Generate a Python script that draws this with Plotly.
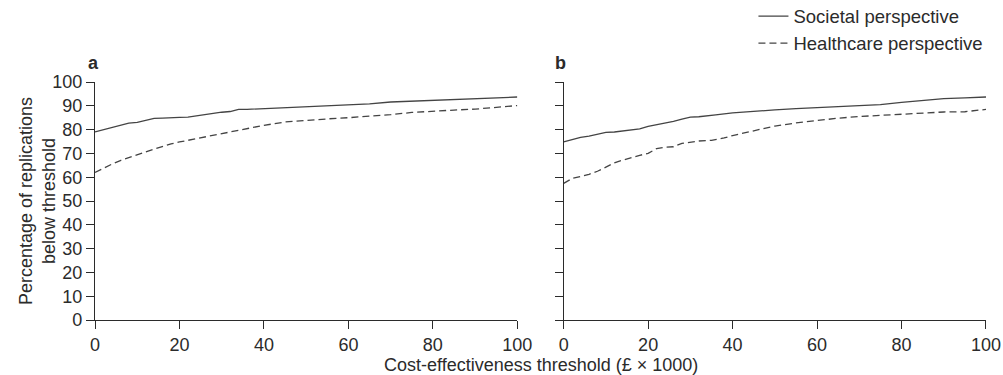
import plotly.graph_objects as go
from plotly.subplots import make_subplots

# Panel a
a_x = [0, 2, 4, 6, 8, 10, 12, 14, 16, 18, 20, 22, 24, 26, 28, 30, 32, 34, 36, 40, 45, 50, 55, 60, 65, 70, 75, 80, 85, 90, 95, 100]
a_soc = [79.0, 80.0, 81.0, 82.0, 82.7, 83.0, 84.0, 84.7, 84.8, 85.1, 85.1, 85.2, 85.8, 86.3, 86.8, 87.3, 87.6, 88.5, 88.5, 88.8, 89.2, 89.5, 89.9, 90.3, 90.8, 91.6, 92.0, 92.4, 92.8, 93.2, 93.3, 93.7]
a_hc_x = [0, 2, 4, 6, 8, 10, 12, 14, 16, 18, 20, 22, 25, 28, 30, 35, 40, 45, 50, 55, 60, 65, 70, 75, 80, 85, 90, 95, 100]
a_hc = [62.0, 63.8, 65.5, 67.0, 68.3, 69.5, 70.6, 71.8, 73.0, 74.0, 74.8, 75.5, 76.5, 77.5, 78.3, 80.0, 81.8, 83.2, 84.0, 84.5, 85.0, 85.6, 86.3, 87.2, 87.8, 88.2, 88.6, 89.2, 90.1]

# Panel b
b_x = [0, 2, 4, 6, 8, 10, 12, 14, 16, 18, 20, 22, 24, 26, 28, 30, 32, 34, 36, 40, 45, 50, 55, 60, 65, 70, 75, 80, 85, 90, 95, 100]
b_soc = [74.8, 75.8, 76.7, 77.3, 78.2, 78.8, 79.0, 79.5, 79.8, 80.3, 81.4, 82.0, 82.8, 83.5, 84.4, 85.2, 85.4, 85.7, 86.2, 87.0, 87.8, 88.3, 88.8, 89.2, 89.6, 90.1, 90.5, 91.4, 92.3, 93.0, 93.3, 93.7]
b_hc_x = [0, 1, 2, 4, 6, 8, 10, 12, 14, 16, 18, 20, 22, 24, 26, 28, 30, 32, 35, 38, 40, 45, 50, 55, 60, 65, 70, 75, 80, 85, 90, 95, 100]
b_hc = [57.4, 58.5, 59.5, 60.3, 61.2, 62.5, 64.3, 66.0, 67.2, 68.3, 69.2, 70.0, 72.0, 72.6, 72.8, 74.2, 74.8, 75.2, 75.5, 76.5, 77.5, 79.5, 81.5, 82.8, 83.9, 84.8, 85.5, 86.0, 86.7, 87.2, 87.4, 87.5, 88.5]

x_ticks = [0, 20, 40, 60, 80, 100]
y_ticks = [0, 10, 20, 30, 40, 50, 60, 70, 80, 90, 100]

FONT = "Liberation Sans, Arial, sans-serif"
TXT = "#2b2b2b"
LINE = "#444444"
FS = 18

fig = make_subplots(rows=1, cols=2, horizontal_spacing=0.052)

fig.add_trace(go.Scatter(x=a_x, y=a_soc, mode="lines", name="Societal perspective",
                         line=dict(color=LINE, width=1.3)), row=1, col=1)
fig.add_trace(go.Scatter(x=a_hc_x, y=a_hc, mode="lines", name="Healthcare perspective",
                         line=dict(color=LINE, width=1.3, dash="7px,4px")), row=1, col=1)
fig.add_trace(go.Scatter(x=b_x, y=b_soc, mode="lines", name="Societal perspective", showlegend=False,
                         line=dict(color=LINE, width=1.3)), row=1, col=2)
fig.add_trace(go.Scatter(x=b_hc_x, y=b_hc, mode="lines", name="Healthcare perspective", showlegend=False,
                         line=dict(color=LINE, width=1.3, dash="7px,4px")), row=1, col=2)

axis_common = dict(showgrid=False, zeroline=False, showline=True, linecolor=TXT, linewidth=1.3,
                   ticks="outside", ticklen=8, tickwidth=1.3, tickcolor=TXT, automargin=False,
                   tickfont=dict(family=FONT, size=FS, color=TXT))

fig.update_xaxes(range=[0, 100], tickvals=x_ticks, **axis_common)
fig.update_yaxes(range=[0, 100], tickvals=y_ticks, **axis_common)
fig.update_yaxes(showticklabels=False, row=1, col=2)

fig.update_layout(
    width=1003, height=375,
    margin=dict(l=95, r=17, t=82, b=55, autoexpand=False),
    plot_bgcolor="white", paper_bgcolor="white",
    font=dict(family=FONT, size=FS, color=TXT),
    legend=dict(x=0.739, y=1.355, xanchor="left", yanchor="top",
                font=dict(family=FONT, size=18.5, color=TXT),
                bgcolor="rgba(0,0,0,0)", tracegroupgap=0, itemwidth=30),
    annotations=[
        dict(text="Percentage of replications<br>below threshold", xref="paper", yref="paper",
             x=-0.065, y=0.5, xanchor="center", yanchor="middle", textangle=-90,
             showarrow=False, font=dict(family=FONT, size=FS, color=TXT)),
        dict(text="Cost-effectiveness threshold (£ × 1000)", xref="paper", yref="paper",
             x=0.5, y=-0.14, xanchor="center", yanchor="top", showarrow=False,
             font=dict(family=FONT, size=FS, color=TXT)),
        dict(text="<b>a</b>", xref="paper", yref="paper", x=-0.01, y=1.03,
             xanchor="left", yanchor="bottom", showarrow=False,
             font=dict(family=FONT, size=FS, color=TXT)),
        dict(text="<b>b</b>", xref="paper", yref="paper", x=0.514, y=1.03,
             xanchor="left", yanchor="bottom", showarrow=False,
             font=dict(family=FONT, size=FS, color=TXT)),
    ],
)

fig.write_html("out.html", config={"displayModeBar": False},
               post_script="document.body.style.margin='0px';document.body.style.overflow='hidden';")
